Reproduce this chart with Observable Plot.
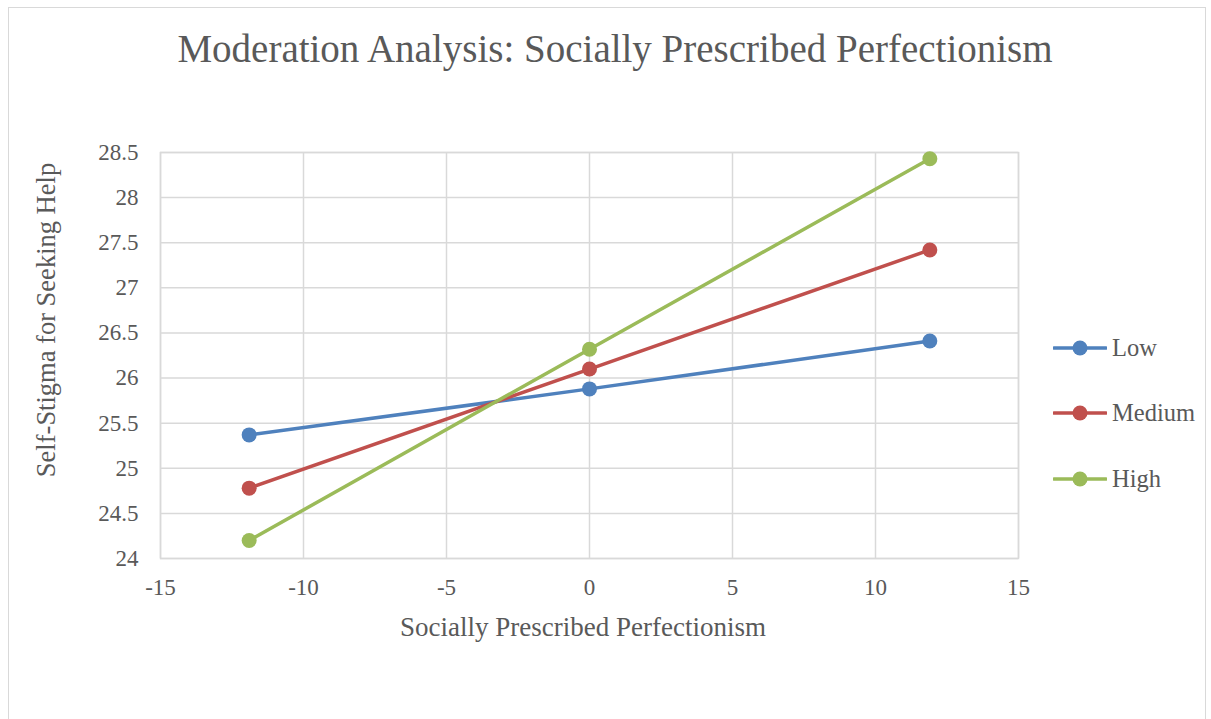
<!DOCTYPE html>
<html>
<head>
<meta charset="utf-8">
<script src="https://cdn.jsdelivr.net/npm/d3@7"></script>
<script src="https://cdn.jsdelivr.net/npm/@observablehq/plot@0.6"></script>
<style>
  html, body { margin: 0; padding: 0; background: #fff; }
  #page { position: relative; width: 1211px; height: 719px; overflow: hidden; background: #fff;
          font-family: "Liberation Serif", "DejaVu Serif", serif; color: #595959; }
  #border { position: absolute; left: 8px; top: 7px; width: 1198px; height: 740px; border: 1px solid #d9d9d9; box-sizing: border-box; }
  #title { position: absolute; left: 0; width: 1230px; top: 26px; text-align: center; font-size: 39px; color: #595959; white-space: nowrap; }
  #chart { position: absolute; left: 0; top: 0; }
  #ylabel { position: absolute; left: 46px; top: 320px; transform: translate(-50%, -50%) rotate(-90deg); font-size: 26.5px; white-space: nowrap; }
  #xlabel { position: absolute; left: 583px; top: 627px; transform: translate(-50%, -50%); font-size: 27px; white-space: nowrap; }
  #legend { position: absolute; left: 1053px; top: 0; }
  .item { position: absolute; left: 0; height: 30px; display: flex; align-items: center; white-space: nowrap; font-size: 24.5px; }
  .item svg { margin-right: 5px; }
</style>
</head>
<body>
<div id="page">
  <div id="border"></div>
  <div id="title">Moderation Analysis: Socially Prescribed Perfectionism</div>
  <div id="chart"></div>
  <div id="ylabel">Self-Stigma for Seeking Help</div>
  <div id="xlabel">Socially Prescribed Perfectionism</div>
  <div id="legend"></div>
</div>
<script>
const xValues = [-11.9, 0, 11.9];
const seriesNames = ["Low", "Medium", "High"];
const lowValues = [25.37, 25.88, 26.41];
const mediumValues = [24.78, 26.10, 27.42];
const highValues = [24.20, 26.32, 28.43];
const seriesColors = ["#4f81bd", "#c0504d", "#9bbb59"];
const xTicks = [-15, -10, -5, 0, 5, 10, 15];
const yTicks = [24, 24.5, 25, 25.5, 26, 26.5, 27, 27.5, 28, 28.5];

const allValues = [lowValues, mediumValues, highValues];
const data = [];
seriesNames.forEach((s, i) => {
  xValues.forEach((x, j) => data.push({series: s, x, y: allValues[i][j]}));
});

const chart = Plot.plot({
  width: 1211,
  height: 719,
  marginLeft: 160,
  marginRight: 193,
  marginTop: 152,
  marginBottom: 161,
  style: {fontFamily: '"Liberation Serif", "DejaVu Serif", serif', fontSize: "23px", color: "#595959", background: "transparent", overflow: "visible"},
  x: {domain: [-15, 15]},
  y: {domain: [24, 28.5]},
  color: {domain: seriesNames, range: seriesColors},
  marks: [
    Plot.gridX(xTicks, {stroke: "#d9d9d9", strokeOpacity: 1, strokeWidth: 1.5}),
    Plot.gridY(yTicks, {stroke: "#d9d9d9", strokeOpacity: 1, strokeWidth: 1.5}),
    Plot.frame({stroke: "#d9d9d9", strokeWidth: 1.5}),
    Plot.axisX(xTicks, {tickSize: 0, tickPadding: 20, label: null, fill: "#595959", fontSize: 23, tickFormat: d => String(d)}),
    Plot.axisY(yTicks, {tickSize: 0, tickPadding: 22, label: null, fill: "#595959", fontSize: 23, tickFormat: d => String(d)}),
    Plot.line(data, {x: "x", y: "y", z: "series", stroke: "series", strokeWidth: 3.5}),
    Plot.dot(data, {x: "x", y: "y", fill: "series", r: 7.5})
  ]
});
document.getElementById("chart").appendChild(chart);

const legend = document.getElementById("legend");
const legendTops = [333, 398, 464];
seriesNames.forEach((s, i) => {
  const div = document.createElement("div");
  div.className = "item";
  div.style.top = legendTops[i] + "px";
  div.innerHTML = `<svg width="54" height="20"><line x1="1" y1="10" x2="53" y2="10" stroke="${seriesColors[i]}" stroke-width="3.5" stroke-linecap="round"/><circle cx="27" cy="10" r="7.5" fill="${seriesColors[i]}"/></svg><span>${s}</span>`;
  legend.appendChild(div);
});
</script>
</body>
</html>
